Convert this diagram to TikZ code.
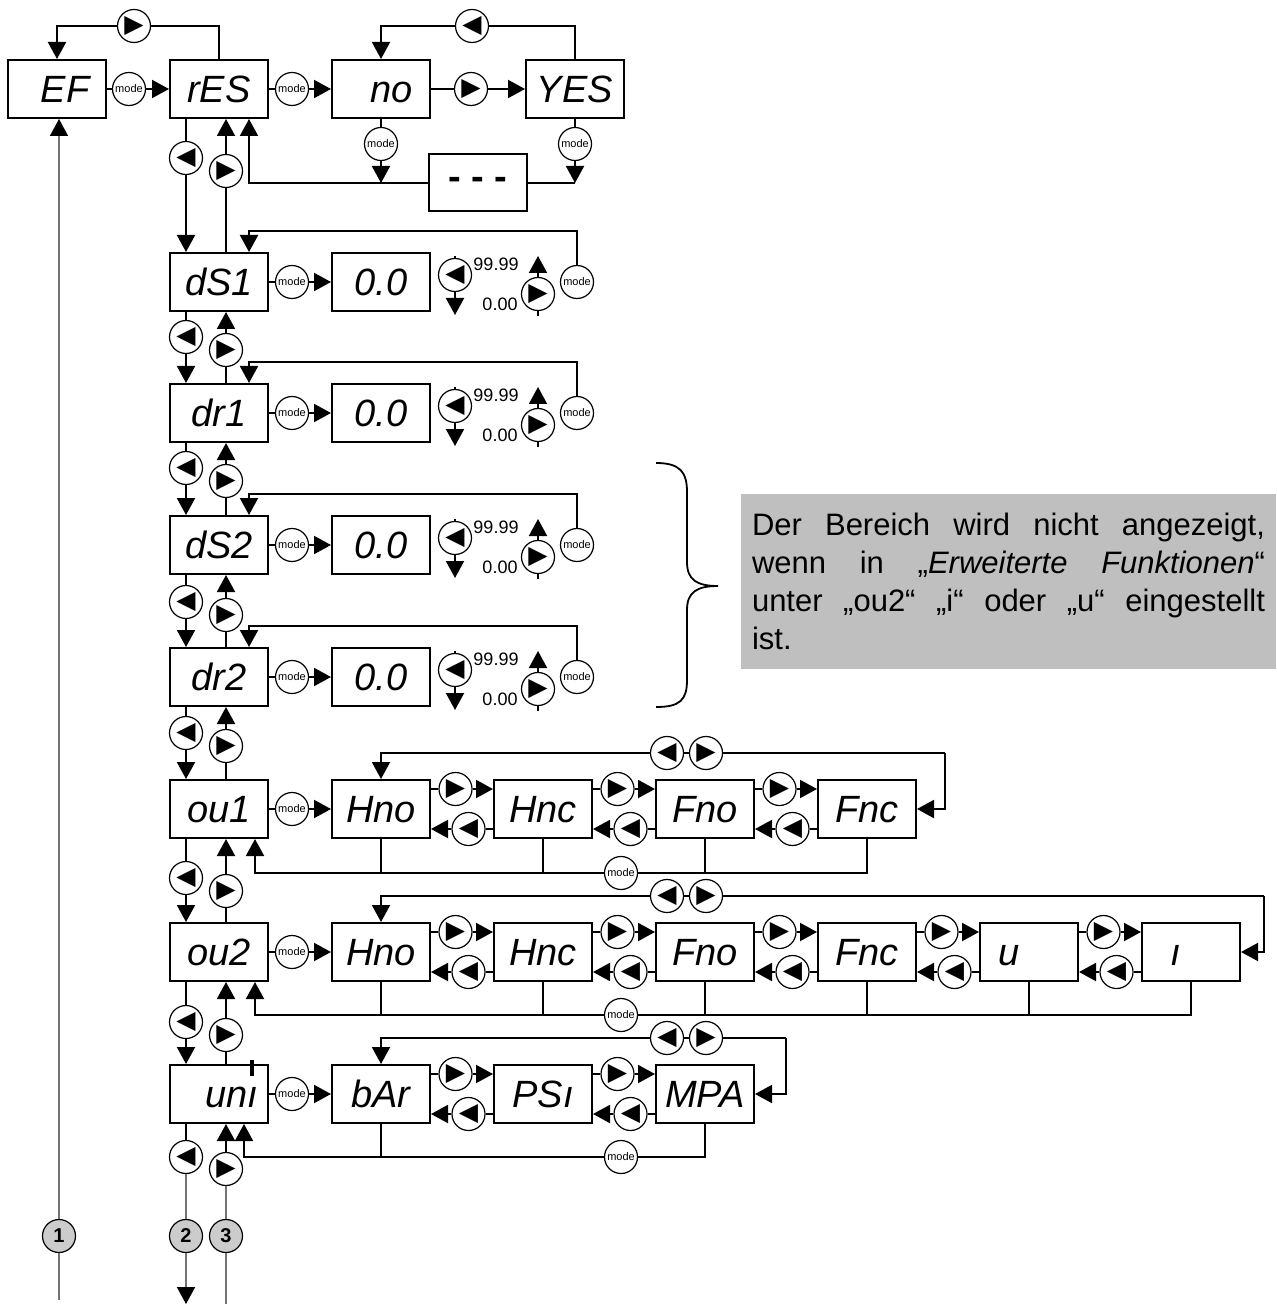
\documentclass[tikz,border=0pt]{standalone}
\usepackage{fontspec}
\setmainfont{Liberation Sans}
\newfontfamily\symfont{DejaVu Sans}
\usetikzlibrary{arrows.meta,calc}
\newcommand{\btnR}{\symfont ▶}
\newcommand{\btnL}{\symfont ◀}
\tikzset{
  disp/.style={draw, line width=1pt, minimum height=29pt, text width=44pt, text height=13.6pt, text depth=0pt, inner xsep=2.5pt, inner ysep=0pt, align=center, font=\itshape\fontsize{19}{19}\selectfont},
  btn/.style={draw, circle, line width=0.6pt, minimum size=16.5pt, inner sep=0pt, fill=white, font=\symfont\fontsize{12.5}{12.5}\selectfont},
  modebtn/.style={btn, font=\fontsize{5.5}{6}\selectfont},
  numbtn/.style={btn, fill=gray!40, font=\bfseries\fontsize{10}{10}\selectfont},
  val/.style={inner sep=0pt, font=\fontsize{9}{9}\selectfont},
  ln/.style={line width=1pt},
  arr/.style={line width=1pt, -{Triangle[length=8.5pt,width=9pt]}},
  thinln/.style={line width=0.9pt, black!55},
  thinarr/.style={line width=0.9pt, black!55, -{Triangle[length=8.5pt,width=9pt,color=black]}}
}
\begin{document}
\begin{tikzpicture}[x=0.5pt,y=-0.5pt]
  \useasboundingbox (0,0) rectangle (1276,1304);
  %columns of the up/down links
  \coordinate (colL) at (186,0);
  \coordinate (colR) at (226,0);
  \coordinate (colB) at (249,0);

  %first row
  \node[disp] (ef) at (57,89) {\kern8pt EF};
  \node[modebtn] (mef) at (129,89) {mode};
  \node[disp] (res) at (219,89) {rES};
  \node[modebtn] (mres) at (292,89) {mode};
  \node[disp, align=right] (no) at (381,89) {no\kern6pt};
  \node[btn] (rno) at (471,89) {\btnR};
  \node[disp] (yes) at (575,89) {YES};
  \node[btn] (tef) at (134,26) {\btnR};
  \node[btn] (tno) at (472,26) {\btnL};
  \node[modebtn] (mno) at (381,144) {mode};
  \node[modebtn] (myes) at (575,144) {mode};
  \node[draw, ln, minimum width=49pt, minimum height=28.5pt, font=\bfseries\fontsize{19}{19}\selectfont] (dash) at (478,183) {- - -};
  \draw[ln] (ef) -- (mef);
  \draw[arr] (mef) -- (res);
  \draw[ln] (res) -- (mres);
  \draw[arr] (mres) -- (no);
  \draw[ln] (no) -- (rno);
  \draw[arr] (rno) -- (yes);
  \draw[ln] (res.north) |- (tef);
  \draw[arr] (tef) -| (ef.north);
  \draw[ln] (yes.north) |- (tno);
  \draw[arr] (tno) -| (no.north);
  \draw[ln] (no) -- (mno);
  \draw[arr] (mno) -- (mno |- dash);
  \draw[ln] (yes) -- (myes);
  \draw[arr] (myes) -- (myes |- dash);
  \draw[ln] (myes |- dash) -- (dash);
  \draw[arr] (dash) -| (res.south -| colB);

  %delay rows
  \foreach \nm/\lbl/\yc in {ds1/dS1/282, dr1/dr1/413, ds2/dS2/545, dr2/dr2/677} {
    \node[disp] (\nm) at (219,\yc) {\lbl};
    \node[modebtn] (m\nm) at (292,\yc) {mode};
    \node[disp] (v\nm) at (381,\yc) {0.0};
    \node[btn] (l\nm) at (455,\yc-7) {\btnL};
    \node[btn] (r\nm) at (538,\yc+12) {\btnR};
    \node[modebtn] (x\nm) at (577,\yc) {mode};
    \node[val] (hi\nm) at (496,\yc-18) {99.99};
    \node[val] (lo\nm) at (500,\yc+22) {0.00};
    \coordinate (lt\nm) at (455,\yc-26);
    \coordinate (lb\nm) at (455,\yc+33);
    \coordinate (rt\nm) at (538,\yc-26);
    \coordinate (rb\nm) at (538,\yc+34);
    \coordinate (lp\nm) at (249,\yc-51);
    \draw[ln] (\nm) -- (m\nm);
    \draw[arr] (m\nm) -- (v\nm);
    \draw[ln] (lt\nm) -- (l\nm);
    \draw[arr] (l\nm) -- (lb\nm);
    \draw[ln] (rb\nm) -- (r\nm);
    \draw[arr] (r\nm) -- (rt\nm);
    \draw[arr] (x\nm) |- (lp\nm) -- (\nm.north -| lp\nm);
  }

  %ou1 row
  \node[disp] (ou1) at (219,809) {ou1};
  \node[modebtn] (mou1) at (292,809) {mode};
  \foreach \i/\lbl in {1/Hno,2/Hnc,3/Fno,4/Fnc}
    \node[disp] (oa\i) at (219+162*\i,809) {\lbl};
  \draw[ln] (ou1) -- (mou1);
  \draw[arr] (mou1) -- (oa1);
  \foreach \i [evaluate=\i as \j using int(\i+1)] in {1,2,3} {
    \node[btn] (fa\i) at (293.5+162*\i,789) {\btnR};
    \node[btn] (ba\i) at (306.5+162*\i,829) {\btnL};
    \draw[ln] (oa\i.east |- fa\i) -- (fa\i);
    \draw[arr] (fa\i) -- (oa\j.west |- fa\i);
    \draw[ln] (oa\j.west |- ba\i) -- (ba\i);
    \draw[arr] (ba\i) -- (oa\i.east |- ba\i);
  }
  \coordinate (ea) at (945,753);
  \node[btn] (tla) at (667,753) {\btnL};
  \node[btn] (tra) at (706,753) {\btnR};
  \draw[arr] (ea) |- (oa4);
  \draw[ln] (ea) -- (tra) -- (tla);
  \draw[arr] (tla) -| (oa1.north);
  \coordinate (ka) at (255,873);
  \node[modebtn] (moa) at (621,873) {mode};
  \draw[ln] (oa4.south) |- (moa);
  \draw[arr] (moa) -| (ou1.south -| ka);
  \foreach \i in {1,2,3}
    \draw[ln] (oa\i.south) -- (oa\i.south |- ka);

  %ou2 row
  \node[disp] (ou2) at (219,952) {ou2};
  \node[modebtn] (mou2) at (292,952) {mode};
  \foreach \i/\lbl in {1/Hno,2/Hnc,3/Fno,4/Fnc}
    \node[disp] (ob\i) at (219+162*\i,952) {\lbl};
  \node[disp, align=left] (ob5) at (1029,952) {\kern6.5pt u};
  \node[disp, align=left] (ob6) at (1191,952) {\kern11.5pt ı};
  \draw[ln] (ou2) -- (mou2);
  \draw[arr] (mou2) -- (ob1);
  \foreach \i [evaluate=\i as \j using int(\i+1)] in {1,...,5} {
    \node[btn] (fb\i) at (293.5+162*\i,932) {\btnR};
    \node[btn] (bb\i) at (306.5+162*\i,972) {\btnL};
    \draw[ln] (ob\i.east |- fb\i) -- (fb\i);
    \draw[arr] (fb\i) -- (ob\j.west |- fb\i);
    \draw[ln] (ob\j.west |- bb\i) -- (bb\i);
    \draw[arr] (bb\i) -- (ob\i.east |- bb\i);
  }
  \coordinate (eb) at (1264,896);
  \node[btn] (tlb) at (667,896) {\btnL};
  \node[btn] (trb) at (706,896) {\btnR};
  \draw[arr] (eb) |- (ob6);
  \draw[ln] (eb) -- (trb) -- (tlb);
  \draw[arr] (tlb) -| (ob1.north);
  \coordinate (kb) at (255,1015);
  \node[modebtn] (mob) at (621,1015) {mode};
  \draw[ln] (ob6.south) |- (mob);
  \draw[arr] (mob) -| (ou2.south -| kb);
  \foreach \i in {1,...,5}
    \draw[ln] (ob\i.south) -- (ob\i.south |- kb);

  %unit row
  \node[disp, align=right] (un1) at (219,1094) {unı\kern2.5pt};
  \draw[line width=2pt] ($(un1.north east)+(-17,-4)$) -- ($(un1.north east)+(-17,12)$);
  \node[modebtn] (mun1) at (292,1094) {mode};
  \foreach \i/\lbl in {1/bAr,2/PSı,3/MPA}
    \node[disp] (oc\i) at (219+162*\i,1094) {\lbl};
  \draw[ln] (un1) -- (mun1);
  \draw[arr] (mun1) -- (oc1);
  \foreach \i [evaluate=\i as \j using int(\i+1)] in {1,2} {
    \node[btn] (fc\i) at (293.5+162*\i,1074) {\btnR};
    \node[btn] (bc\i) at (306.5+162*\i,1114) {\btnL};
    \draw[ln] (oc\i.east |- fc\i) -- (fc\i);
    \draw[arr] (fc\i) -- (oc\j.west |- fc\i);
    \draw[ln] (oc\j.west |- bc\i) -- (bc\i);
    \draw[arr] (bc\i) -- (oc\i.east |- bc\i);
  }
  \coordinate (ec) at (786,1038);
  \node[btn] (tlc) at (667,1038) {\btnL};
  \node[btn] (trc) at (706,1038) {\btnR};
  \draw[arr] (ec) |- (oc3);
  \draw[ln] (ec) -- (trc) -- (tlc);
  \draw[arr] (tlc) -| (oc1.north);
  \coordinate (kc) at (244,1157);
  \node[modebtn] (moc) at (621,1157) {mode};
  \draw[ln] (oc3.south) |- (moc);
  \draw[arr] (moc) -| (un1.south -| kc);
  \draw[ln] (oc1.south) -- (oc1.south |- kc);

  %links between the rows
  \foreach \a/\b/\yl in {res/ds1/158, ds1/dr1/337, dr1/ds2/468, ds2/dr2/602, dr2/ou1/733, ou1/ou2/878, ou2/un1/1022} {
    \node[btn] (dn\a) at (186,\yl) {\btnL};
    \node[btn] (up\a) at (226,\yl+13) {\btnR};
    \draw[ln] (\a.south -| dn\a) -- (dn\a);
    \draw[arr] (dn\a) -- (\b.north -| dn\a);
    \draw[ln] (\b.north -| up\a) -- (up\a);
    \draw[arr] (up\a) -- (\a.south -| up\a);
  }

  %exits at the bottom
  \node[btn] (dnun1) at (186,1157) {\btnL};
  \node[btn] (upun1) at (226,1169) {\btnR};
  \node[numbtn] (n1) at (59,1236) {1};
  \node[numbtn] (n2) at (186,1236) {2};
  \node[numbtn] (n3) at (226,1236) {3};
  \coordinate (e1) at (59,1300);
  \coordinate (e2) at (186,1304);
  \coordinate (e3) at (226,1304);
  \draw[thinln] (e1) -- (n1);
  \draw[thinarr] (n1) -- (ef.south -| n1);
  \draw[ln] (un1.south -| dnun1) -- (dnun1);
  \draw[thinln] (dnun1) -- (n2);
  \draw[thinarr] (n2) -- (e2);
  \draw[thinln] (e3) -- (n3) -- (upun1);
  \draw[arr] (upun1) -- (un1.south -| upun1);

  %brace and note
  \draw[line width=0.9pt] (656,463) .. controls (680,463) and (687,472) .. (687,492) -- (687,562) .. controls (687,580) and (697,586) .. (718,586) .. controls (697,586) and (687,592) .. (687,610) -- (687,680) .. controls (687,700) and (680,707) .. (656,707);
  \node[fill=gray!50, text width=256.5pt, inner xsep=5.5pt, minimum height=87.5pt, align=justify, font=\fontsize{15.5}{19}\selectfont] (note) at (1008.5,581.5) {Der Bereich wird nicht angezeigt,\linebreak wenn in „\textit{Erweiterte Funktionen}“\linebreak unter „ou2“ „i“ oder „u“ eingestellt\linebreak ist.};
\end{tikzpicture}
\end{document}
